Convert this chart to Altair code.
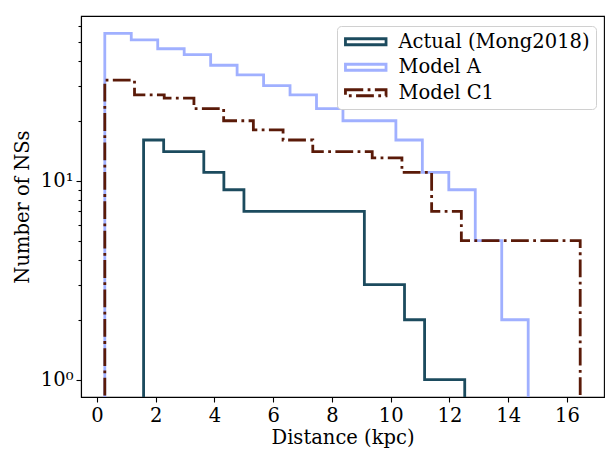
import altair as alt
import pandas as pd
import numpy as np

series_names = ["Actual (Mong2018)", "Model A", "Model C1"]
series_colors = ["#1c4b5e", "#a0b0ff", "#5a1a08"]

# histogram bin ranges (first edge, last edge) and counts per bin (16 bins each)
actual_range = [1.59, 12.52]
actual_counts = [16, 14, 14, 11, 9, 7, 7, 7, 7, 7, 7, 3, 3, 2, 1, 1]
modelA_range = [0.27, 14.68]
modelA_counts = [55, 51, 46, 43, 38, 34, 30, 27, 23, 20, 20, 16, 11, 9, 5, 2]
modelC1_range = [0.27, 16.45]
modelC1_counts = [32, 27, 26, 23, 20, 18, 16, 14, 14, 13, 11, 7, 5, 5, 5, 5]

x_ticks = [0, 2, 4, 6, 8, 10, 12, 14, 16]
y_major = [1, 10]
y_minor = [2, 3, 4, 5, 6, 7, 8, 9, 20, 30, 40, 50, 60]

floor = 0.3  # below the visible log domain, clipped (step outline drops to axis)
rows = []
for name, rng, counts in zip(series_names,
                             [actual_range, modelA_range, modelC1_range],
                             [actual_counts, modelA_counts, modelC1_counts]):
    edges = np.linspace(rng[0], rng[1], len(counts) + 1)
    pts = [(edges[0], floor)]
    for i, c in enumerate(counts):
        pts.append((edges[i], c))
        pts.append((edges[i + 1], c))
    pts.append((edges[-1], floor))
    for k, (xv, yv) in enumerate(pts):
        rows.append({"series": name, "x": float(xv), "y": float(yv), "order": k})
df = pd.DataFrame(rows)

FONT = "DejaVu Serif"
FS = 19.5

legend = alt.Legend(
    title=None, orient="none", legendX=256, legendY=10,
    symbolType="M-2.9,-0.43H2.9V0.43H-2.9Z", symbolSize=196, symbolStrokeWidth=2.8,
    symbolOffset=13, labelOffset=23, labelLimit=400,
    labelFont=FONT, labelFontSize=FS, labelColor="black",
    fillColor="white", strokeColor="#d0d0d0", cornerRadius=4, padding=6,
    rowPadding=4.5,
)

xscale = alt.Scale(domain=[-0.54, 17.26], nice=False, zero=False)
yscale = alt.Scale(type="log", domain=[0.818, 67.2], nice=False)

xaxis = alt.Axis(values=x_ticks, title="Distance (kpc)", grid=False,
                 tickSize=5, labelPadding=4, titlePadding=4)

base = alt.Chart(df)

lines = base.mark_line(strokeWidth=2.8, clip=True, strokeJoin="miter", strokeCap="butt").encode(
    x=alt.X("x:Q", scale=xscale, axis=xaxis),
    y=alt.Y("y:Q", scale=yscale,
            axis=alt.Axis(values=y_major, orient="left", title="Number of NSs", grid=False,
                          tickSize=5, labelPadding=3, titlePadding=8,
                          labelExpr="datum.value == 1 ? '10⁰' : '10¹'")),
    color=alt.Color("series:N", scale=alt.Scale(domain=series_names, range=series_colors),
                    legend=legend),
    strokeDash=alt.StrokeDash("series:N",
                              scale=alt.Scale(domain=series_names,
                                              range=[[1, 0], [1, 0], [17.8, 4.4, 2.8, 4.4]]),
                              legend=legend),
    order="order:Q",
)

minor = base.mark_line(opacity=0).encode(
    x=alt.X("x:Q", scale=xscale, axis=xaxis),
    y=alt.Y("y:Q", scale=yscale,
            axis=alt.Axis(values=y_minor, orient="left", labels=False, title=None,
                          grid=False, tickSize=3, domain=False)),
    detail="series:N",
    order="order:Q",
)

chart = alt.layer(lines, minor).resolve_axis(y="independent").properties(
    width=523, height=381,
    background="white",
    autosize=alt.AutoSizeParams(type="none"),
    padding={"left": 81, "top": 16, "right": 1, "bottom": 53},
).configure_view(stroke="black", strokeWidth=1.1).configure_axis(
    labelFont=FONT, labelFontSize=FS, titleFont=FONT, titleFontSize=FS,
    labelColor="black", titleColor="black", titleFontWeight="normal",
    domainColor="black", tickColor="black", domainWidth=1.1, tickWidth=1.1,
)

chart.save("out.html", embed_options={"renderer": "svg", "actions": False})
